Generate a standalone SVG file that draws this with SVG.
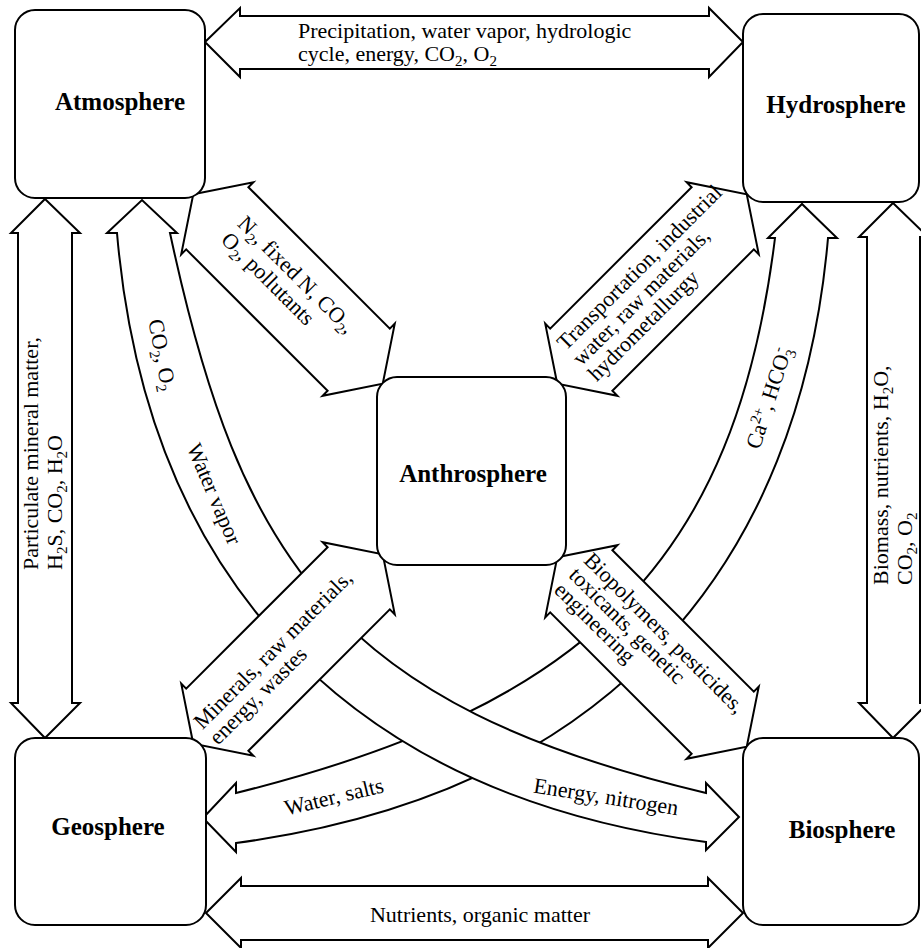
<svg xmlns="http://www.w3.org/2000/svg" xmlns:xlink="http://www.w3.org/1999/xlink" width="921" height="948" viewBox="0 0 921 948">
<style>
.a{fill:#fff;stroke:#000;stroke-width:2;stroke-linejoin:miter}
.box{fill:#fff;stroke:#000;stroke-width:2}
.t{font-family:"Liberation Serif","Times New Roman",serif;font-size:22px;fill:#000}
.m{text-anchor:middle}
.n{font-family:"Liberation Serif","Times New Roman",serif;font-size:25px;font-weight:bold;fill:#000;text-anchor:middle}
.s{font-size:15px}
</style>
<defs>
<path id="diag" class="a" d="M-134,0 L-100,-51 L-100,-44 L100,-44 L100,-51 L134,0 L100,51 L100,44 L-100,44 L-100,51 Z"/>
</defs>
<rect width="921" height="948" fill="#fff"/>
<g id="connectors">
  <g id="hydro-geo">
    <path class="a" d="M828,238 L837,238 L802,204 L768,238 L775,238 C735,560 590,705 236,793 L236,783 L203,818 L236,852 L236,843 C615,792 800,560 828,238 Z"/>
    <text class="t m" transform="translate(769,398) rotate(-72)" y="7">Ca<tspan class="s" dy="-8">2+</tspan><tspan dy="8">, HCO</tspan><tspan class="s" dy="5">3</tspan><tspan class="s" dx="-6" dy="-14">-</tspan></text>
    <text class="t m" transform="translate(334,797) rotate(-13.5)" y="7">Water, salts</text>
  </g>
  <g id="atmo-bio">
    <path class="a" d="M117,233 L107,233 L142,200 L177,233 L170,233 C240,560 336,705 706,793 L706,783 L739,817 L706,850 L706,842 C330,792 145,560 117,233 Z"/>
    <text class="t m" transform="translate(162,355) rotate(79)" y="7">CO<tspan class="s" dy="5">2</tspan><tspan dy="-5">, O</tspan><tspan class="s" dy="5">2</tspan></text>
    <text class="t m" transform="translate(214,494) rotate(67)" y="7">Water vapor</text>
    <text class="t m" transform="translate(606,797) rotate(9)" y="7">Energy, nitrogen</text>
  </g>
  <g id="atmo-hydro">
    <path class="a" d="M205,42 L240,8 L240,16 L709,16 L709,8 L743,42 L709,77 L709,69 L240,69 L240,77 Z"/>
    <text class="t" x="298" y="38">Precipitation, water vapor, hydrologic</text>
    <text class="t" x="298" y="61">cycle, energy, CO<tspan class="s" dy="5">2</tspan><tspan dy="-5">, O</tspan><tspan class="s" dy="5">2</tspan></text>
  </g>
  <g id="atmo-geo">
    <path class="a" d="M45,199 L80,233 L72,233 L72,703 L80,703 L45,738 L11,703 L18,703 L18,233 L11,233 Z"/>
    <text class="t" transform="translate(38,570) rotate(-90)">Particulate mineral matter,</text>
    <text class="t" transform="translate(62,570) rotate(-90)">H<tspan class="s" dy="5">2</tspan><tspan dy="-5">S, CO</tspan><tspan class="s" dy="5">2</tspan><tspan dy="-5">, H</tspan><tspan class="s" dy="5">2</tspan><tspan dy="-5">O</tspan></text>
  </g>
  <g id="hydro-bio">
    <path class="a" d="M893,203 L928,237 L920,237 L920,703 L928,703 L893,738 L859,703 L867,703 L867,237 L859,237 Z"/>
    <text class="t" transform="translate(888,585) rotate(-90)">Biomass, nutrients, H<tspan class="s" dy="5">2</tspan><tspan dy="-5">O,</tspan></text>
    <text class="t" transform="translate(912,585) rotate(-90)">CO<tspan class="s" dy="5">2</tspan><tspan dy="-5">, O</tspan><tspan class="s" dy="5">2</tspan></text>
  </g>
  <g id="geo-bio">
    <path class="a" d="M206,913 L241,878 L241,886 L708,886 L708,878 L743,913 L708,948 L708,940 L241,940 L241,948 Z"/>
    <text class="t m" x="480" y="922">Nutrients, organic matter</text>
  </g>
  <g id="atmo-anthro" transform="translate(288,289) rotate(45)">
    <use xlink:href="#diag" href="#diag"/>
    <text class="t" x="-82" y="-9">N<tspan class="s" dy="5">2</tspan><tspan dy="-5">, fixed N, CO</tspan><tspan class="s" dy="5">2</tspan><tspan dy="-5">,</tspan></text>
    <text class="t" x="-82" y="14">O<tspan class="s" dy="5">2</tspan><tspan dy="-5">, pollutants</tspan></text>
  </g>
  <g id="hydro-anthro" transform="translate(652,289) rotate(-45)">
    <use xlink:href="#diag" href="#diag"/>
    <text class="t" x="-105" y="-17">Transportation, industrial</text>
    <text class="t" x="-105" y="5">water, raw materials,</text>
    <text class="t" x="-105" y="27">hydrometallurgy</text>
  </g>
  <g id="geo-anthro" transform="translate(288,649) rotate(-45)">
    <use xlink:href="#diag" href="#diag"/>
    <text class="t" x="-118" y="-3">Minerals, raw materials,</text>
    <text class="t" x="-118" y="19">energy, wastes</text>
  </g>
  <g id="bio-anthro" transform="translate(652,652) rotate(45)">
    <use xlink:href="#diag" href="#diag"/>
    <text class="t" x="-113" y="-15">Biopolymers, pesticides,</text>
    <text class="t" x="-113" y="6">toxicants, genetic</text>
    <text class="t" x="-113" y="27">engineering</text>
  </g>
</g>
<g id="atmosphere">
  <rect class="box" x="15" y="10" width="190" height="188" rx="20"/>
  <text class="n" x="120" y="110">Atmosphere</text>
</g>
<g id="hydrosphere">
  <rect class="box" x="743" y="14" width="176" height="188" rx="20"/>
  <text class="n" x="836" y="113">Hydrosphere</text>
</g>
<g id="geosphere">
  <rect class="box" x="15" y="738" width="191" height="187" rx="20"/>
  <text class="n" x="108" y="835">Geosphere</text>
</g>
<g id="biosphere">
  <rect class="box" x="743" y="738" width="176" height="187" rx="20"/>
  <text class="n" x="842" y="838">Biosphere</text>
</g>
<g id="anthrosphere">
  <rect class="box" x="377" y="377" width="189" height="188" rx="20"/>
  <text class="n" x="473" y="482">Anthrosphere</text>
</g>
</svg>
